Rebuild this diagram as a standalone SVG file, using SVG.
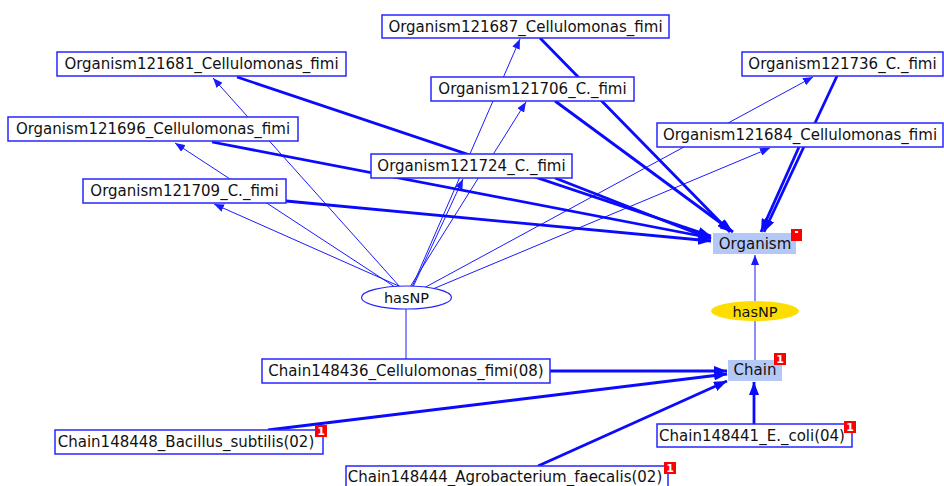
<svg xmlns="http://www.w3.org/2000/svg" width="944" height="486" viewBox="0 0 944 486">
<style>
.box{fill:#ffffff;stroke:#2626ff;stroke-width:1.5}
.cls{fill:#b4c8f8;stroke:none}
.t{font-family:"DejaVu Sans",Verdana,sans-serif;font-size:15px;fill:#111111;text-anchor:middle}
.thin{stroke:#1a1aff;stroke-width:1;fill:none}
.thick{stroke:#0a0aff;stroke-width:2.8;fill:none}
.badge{fill:#ff0000}
.bt{font-family:"DejaVu Sans",sans-serif;font-size:11px;font-weight:bold;fill:#ffffff;text-anchor:middle}
</style>
<defs>
<marker id="ah" markerUnits="userSpaceOnUse" markerWidth="11" markerHeight="8" refX="10" refY="4" orient="auto"><path d="M0,0 L10,4 L0,8 z" fill="#1a1aff"/></marker>
<marker id="ahk" markerUnits="userSpaceOnUse" markerWidth="14" markerHeight="10" refX="13" refY="5" orient="auto"><path d="M0,0 L13,5 L0,10 z" fill="#0a0aff"/></marker>
</defs>
<rect width="944" height="486" fill="#ffffff"/>
<g id="connectors">
<line class="thin" x1="400" y1="287" x2="213" y2="78" marker-end="url(#ah)"/>
<line class="thin" x1="395" y1="287" x2="175" y2="143" marker-end="url(#ah)"/>
<line class="thin" x1="401" y1="287" x2="214" y2="204" marker-end="url(#ah)"/>
<line class="thin" x1="412" y1="287" x2="520" y2="39" marker-end="url(#ah)"/>
<line class="thin" x1="410" y1="287" x2="526" y2="102" marker-end="url(#ah)"/>
<line class="thin" x1="413" y1="287" x2="463" y2="179" marker-end="url(#ah)"/>
<line class="thin" x1="422" y1="289" x2="813" y2="77" marker-end="url(#ah)"/>
<line class="thin" x1="428" y1="291" x2="770" y2="148" marker-end="url(#ah)"/>
<line class="thick" x1="237" y1="77" x2="711" y2="236" marker-end="url(#ahk)"/>
<line class="thick" x1="212" y1="142" x2="711" y2="238" marker-end="url(#ahk)"/>
<line class="thick" x1="286" y1="201" x2="711" y2="241" marker-end="url(#ahk)"/>
<line class="thick" x1="555" y1="178" x2="711" y2="239" marker-end="url(#ahk)"/>
<line class="thick" x1="555" y1="101" x2="733" y2="232" marker-end="url(#ahk)"/>
<line class="thick" x1="540" y1="38" x2="730" y2="232" marker-end="url(#ahk)"/>
<line class="thick" x1="837" y1="76" x2="764" y2="232" marker-end="url(#ahk)"/>
<line class="thick" x1="799" y1="147" x2="761" y2="232" marker-end="url(#ahk)"/>
<line class="thin" x1="406" y1="309" x2="406" y2="359"/>
<line class="thick" x1="550" y1="371" x2="727" y2="371" marker-end="url(#ahk)"/>
<line class="thick" x1="268" y1="430" x2="727" y2="374" marker-end="url(#ahk)"/>
<line class="thick" x1="538" y1="466" x2="727" y2="381" marker-end="url(#ahk)"/>
<line class="thick" x1="754" y1="424" x2="754" y2="382" marker-end="url(#ahk)"/>
<line class="thin" x1="755" y1="360" x2="755" y2="321"/>
<line class="thin" x1="755" y1="301" x2="755" y2="255" marker-end="url(#ah)"/>
</g>
<g id="n121687"><rect class="box" x="382" y="15" width="287" height="23"/><text class="t" x="525.5" y="32">Organism121687_Cellulomonas_fimi</text></g>
<g id="n121681"><rect class="box" x="57" y="52" width="289" height="24"/><text class="t" x="201.5" y="69">Organism121681_Cellulomonas_fimi</text></g>
<g id="n121706"><rect class="box" x="431" y="77" width="203" height="24"/><text class="t" x="532.5" y="94">Organism121706_C._fimi</text></g>
<g id="n121736"><rect class="box" x="742" y="52" width="201" height="24"/><text class="t" x="842.5" y="69">Organism121736_C._fimi</text></g>
<g id="n121696"><rect class="box" x="8" y="117" width="290" height="24"/><text class="t" x="153" y="134">Organism121696_Cellulomonas_fimi</text></g>
<g id="n121684"><rect class="box" x="657" y="123" width="286" height="24"/><text class="t" x="800" y="140">Organism121684_Cellulomonas_fimi</text></g>
<g id="n121724"><rect class="box" x="371" y="154" width="201" height="24"/><text class="t" x="471.5" y="171">Organism121724_C._fimi</text></g>
<g id="n121709"><rect class="box" x="83" y="179" width="203" height="24"/><text class="t" x="184.5" y="196">Organism121709_C._fimi</text></g>
<g id="organism"><rect class="cls" x="713" y="233" width="83" height="21"/><text class="t" x="755" y="249">Organism</text><rect class="badge" x="791" y="229" width="11" height="12"/><rect x="795" y="231" width="3" height="2" fill="#ffffff"/></g>
<g id="hasNP2"><ellipse cx="755" cy="311" rx="44" ry="10" fill="#ffdd00"/><text class="t" x="755" y="317" style="font-size:14.5px">hasNP</text></g>
<g id="hasNP1"><ellipse cx="406.5" cy="297.5" rx="45" ry="11.5" fill="#ffffff" stroke="#2626ff" stroke-width="1.2"/><text class="t" x="406.5" y="303" style="font-size:14.5px">hasNP</text></g>
<g id="c148436"><rect class="box" x="262" y="359" width="288" height="24"/><text class="t" x="406" y="376">Chain148436_Cellulomonas_fimi(08)</text></g>
<g id="chain"><rect class="cls" x="728" y="360" width="54" height="21"/><text class="t" x="755" y="375">Chain</text><rect class="badge" x="774" y="353" width="12" height="12"/><text class="bt" x="780" y="363">1</text></g>
<g id="c148448"><rect class="box" x="55" y="430" width="268" height="24"/><text class="t" x="186" y="447">Chain148448_Bacillus_subtilis(02)</text><rect class="badge" x="315" y="425" width="12" height="12"/><text class="bt" x="321" y="435">1</text></g>
<g id="c148441"><rect class="box" x="657" y="424" width="195" height="23"/><text class="t" x="752" y="441">Chain148441_E._coli(04)</text><rect class="badge" x="844" y="421" width="12" height="12"/><text class="bt" x="850" y="431">1</text></g>
<g id="c148444"><rect class="box" x="346" y="466" width="322" height="26"/><text class="t" x="505" y="481.5">Chain148444_Agrobacterium_faecalis(02)</text><rect class="badge" x="664" y="462" width="12" height="12"/><text class="bt" x="670" y="472">1</text></g>
</svg>
